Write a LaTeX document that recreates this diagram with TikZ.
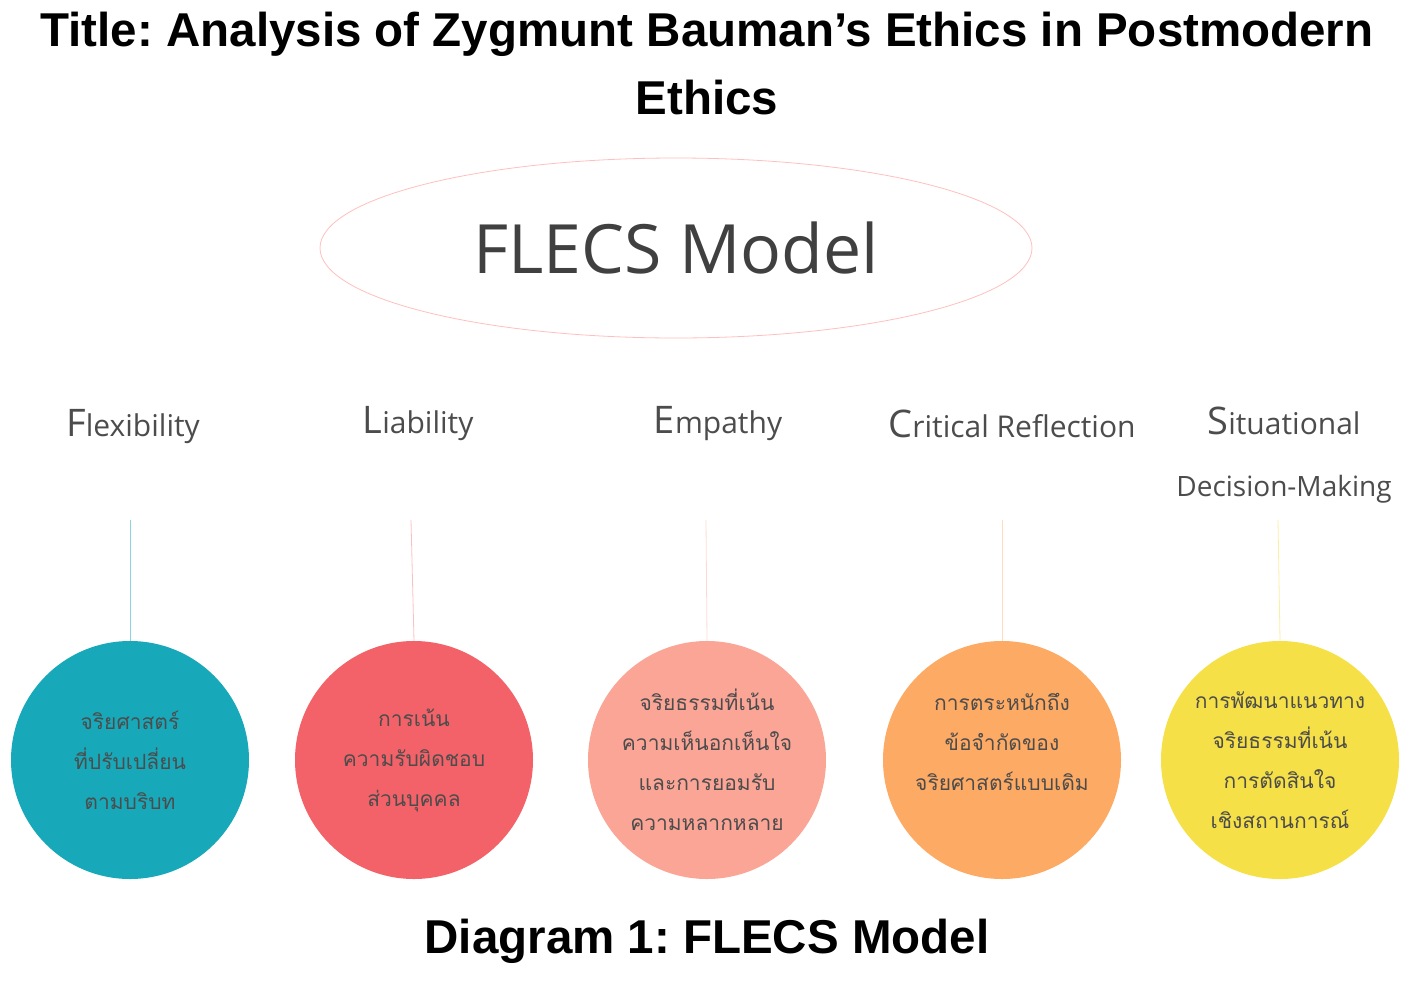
\documentclass[tikz,border=0pt]{standalone}
\usepackage{fontspec}
\usetikzlibrary{shapes.geometric}
\setmainfont{Liberation Sans}
\newfontfamily\thaifont[Script=Thai]{Loma}
\newfontfamily\lbl{Open Sans}
\definecolor{tealc}{HTML}{17A9BA}
\definecolor{redc}{HTML}{F36268}
\definecolor{salc}{HTML}{FBA596}
\definecolor{orc}{HTML}{FDAA64}
\definecolor{yelc}{HTML}{F5E047}
\frenchspacing
\begin{document}
\begin{tikzpicture}[x=1pt,y=-1pt,
  circ/.style={circle,minimum size=238pt,inner sep=0pt,align=center,font=\thaifont\fontsize{21}{40}\selectfont,text=black!70},
  thai/.style={align=center,font=\thaifont\fontsize{21}{40}\selectfont,text=black!70},
  lab/.style={font=\lbl\fontsize{30}{36}\selectfont,text=black!70,align=center},
  stem/.style={line width=0.8pt}]
\useasboundingbox (0,0) rectangle (1414,985);
\node[font=\bfseries\fontsize{47.5}{68}\selectfont,align=center] (title) at (707,64) {Title: Analysis of Zygmunt Bauman\char39 s Ethics in Postmodern\\Ethics};
\node[draw=red!25,line width=0.8pt,ellipse,minimum width=712pt,minimum height=180pt] (ell) at (676,248) {};
\node[font=\lbl\fontsize{68}{70}\selectfont,text=black!75] (m) at (676,248) {FLECS Model};
\node[lab] (la) at (133,427) {{\fontsize{38}{40}\selectfont F}lexibility};
\node[lab] (lb) at (418,424) {{\fontsize{38}{40}\selectfont L}iability};
\node[lab] (lc) at (718,424) {{\fontsize{38}{40}\selectfont E}mpathy};
\node[lab] (ld) at (1012,424) {{\fontsize{38}{40}\selectfont C}ritical Reflection};
\node[lab] (le) at (1284,421) {{\fontsize{38}{40}\selectfont S}ituational};
\node[lab,font=\lbl\fontsize{28}{34}\selectfont] (le2) at (1284,489) {Decision-Making};
\node[circ,fill=tealc] (ca) at (130,760) {จริยศาสตร์\\ที่ปรับเปลี่ยน\\ตามบริบท};
\node[circ,fill=redc] (cb) at (414,760) {การเน้น\\ความรับผิดชอบ\\ส่วนบุคคล};
\node[circ,fill=salc] (cc) at (707,760) {จริยธรรมที่เน้น\\ความเห็นอกเห็นใจ\\และการยอมรับ\\ความหลากหลาย};
\node[circ,fill=orc] (cd) at (1002,760) {};
\node[thai] (tdd) at (1002,742) {การตระหนักถึง\\ข้อจำกัดของ\\จริยศาสตร์แบบเดิม};
\node[circ,fill=yelc] (ce) at (1280,760) {การพัฒนาแนวทาง\\จริยธรรมที่เน้น\\การตัดสินใจ\\เชิงสถานการณ์};
\coordinate (ta) at (130,520);
\coordinate (tb) at (411,520);
\coordinate (tc) at (706,520);
\coordinate (td) at (1002,520);
\coordinate (te) at (1278,520);
\draw[stem,tealc!50] (ta) -- (ca.north);
\draw[stem,redc!40] (tb) -- (cb.north);
\draw[stem,salc!40] (tc) -- (cc.north);
\draw[stem,orc!40] (td) -- (cd.north);
\draw[stem,yelc!50] (te) -- (ce.north);
\node[font=\bfseries\fontsize{47.5}{50}\selectfont] (cap) at (707,941) {Diagram 1: FLECS Model};
\end{tikzpicture}
\end{document}
